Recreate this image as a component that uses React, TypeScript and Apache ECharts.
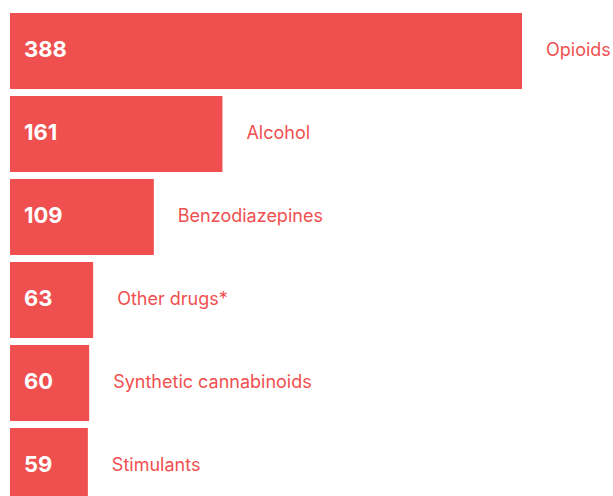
import React, { useEffect, useRef } from "react";
import * as echarts from "echarts";

const categories = ["Opioids", "Alcohol", "Benzodiazepines", "Other drugs*", "Synthetic cannabinoids", "Stimulants"];
const values = [388, 161, 109, 63, 60, 59];

const RED = "#F04F4F";

export default function App() {
  const ref = useRef<HTMLDivElement>(null);
  useEffect(() => {
    const chart = echarts.init(ref.current!, null, { renderer: "svg" });
    chart.setOption({
      animation: false,
      grid: { left: 10, right: 91, top: 9.5, height: 498, containLabel: false },
      xAxis: { type: "value", min: 0, max: 388, show: false },
      yAxis: { type: "category", data: categories, inverse: true, show: false },
      series: [
        {
          type: "bar",
          data: values,
          barWidth: 76,
          barGap: "-100%",
          itemStyle: { color: RED },
          label: {
            show: true,
            position: "insideLeft",
            distance: 14,
            color: "#ffffff",
            fontSize: 22,
            fontWeight: "bold",
            fontFamily: "Inter",
            offset: [0, -2],
          },
        },
        {
          type: "bar",
          data: values,
          barWidth: 76,
          barGap: "-100%",
          itemStyle: { color: "transparent" },
          silent: true,
          label: {
            show: true,
            position: "right",
            distance: 24,
            color: RED,
            fontSize: 18,
            fontFamily: "Inter",
            offset: [0, -2],
            formatter: (p: any) => categories[p.dataIndex],
          },
        },
      ],
    });
    return () => chart.dispose();
  }, []);
  return (
    <div style={{ width: 613, height: 496, position: "absolute", left: 0, top: 0, overflow: "hidden" }}>
      <div ref={ref} style={{ width: 613, height: 512 }} />
    </div>
  );
}
